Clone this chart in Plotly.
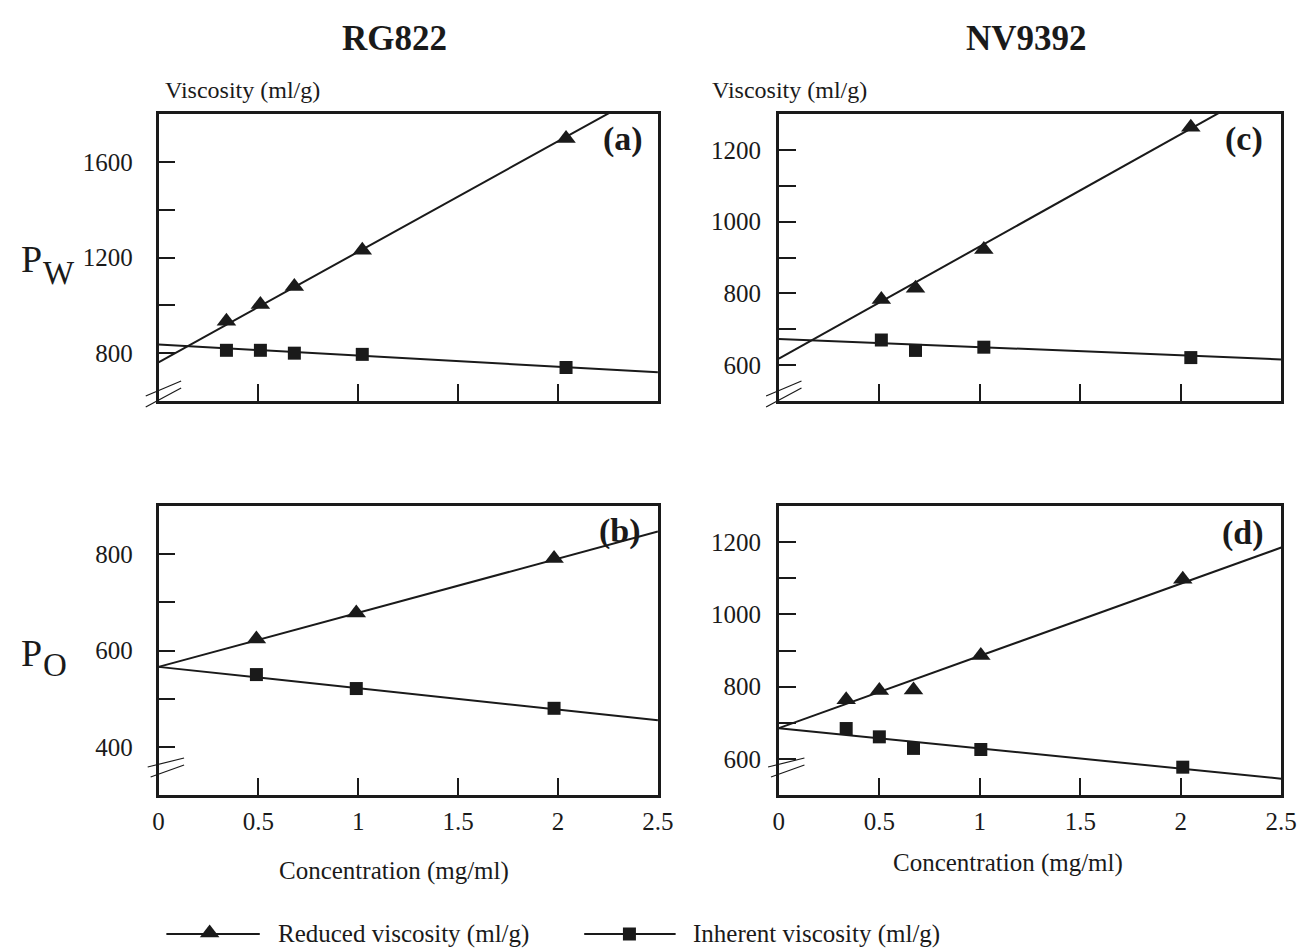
import plotly.graph_objects as go

# ---------------- data ----------------
fit_x = [0, 2.5]

# (a) RG822, Pw
conc_a = [0.34, 0.51, 0.68, 1.02, 2.04]
red_a = [933, 1004, 1079, 1230, 1698]
inh_a = [812, 812, 800, 795, 740]
red_a_fit = [762, 1917]
inh_a_fit = [836, 720]

# (c) NV9392, Pw
conc_c = [0.51, 0.68, 1.02, 2.05]
red_c = [783, 814, 922, 1263]
inh_c = [670, 641, 650, 621]
red_c_fit = [618, 1400]
inh_c_fit = [673, 616]

# (b) RG822, Po
conc_b = [0.49, 0.99, 1.98]
red_b = [624, 678, 791]
inh_b = [550, 521, 480]
red_b_fit = [566, 847]
inh_b_fit = [566, 455]

# (d) NV9392, Po
conc_d = [0.335, 0.50, 0.67, 1.005, 2.01]
red_d = [764, 789, 791, 886, 1097]
inh_d = [684, 661, 629, 626, 577]
red_d_fit = [685, 1185]
inh_d_fit = [685, 545]

x_ticks = [0, 0.5, 1, 1.5, 2, 2.5]
x_tick_labels = ["0", "0.5", "1", "1.5", "2", "2.5"]

y_ticks_a = [600, 800, 1000, 1200, 1400, 1600, 1800]
y_labels_a = ["", "800", "", "1200", "", "1600", ""]
y_ticks_c = [500, 600, 700, 800, 900, 1000, 1100, 1200, 1300]
y_labels_c = ["", "600", "", "800", "", "1000", "", "1200", ""]
y_ticks_b = [300, 400, 500, 600, 700, 800, 900]
y_labels_b = ["", "400", "", "600", "", "800", ""]
y_ticks_d = y_ticks_c
y_labels_d = y_labels_c

series_names = ["Reduced viscosity (ml/g)", "Inherent viscosity (ml/g)"]

# ---------------- layout helpers ----------------
VW, VH = 1311, 952          # browser window
OFF = 8                     # default body margin of the html page
W, H = VW - OFF, VH - OFF   # figure size so the page fits the window exactly
FONT = "Liberation Serif, Times New Roman, serif"
INK = "#1a1a1a"


def px(x):
    return (x - OFF) / W


def py(y):
    return 1 - (y - OFF) / H


panels = {
    # name: (axis index, left, right, top, bottom) in screen pixels
    "a": (1, 155, 663, 114, 401),
    "c": (2, 786, 1297, 114, 401),
    "b": (3, 155, 663, 506, 795),
    "d": (4, 786, 1297, 506, 795),
}

fig = go.Figure()


def add_panel(idx, conc, red, inh, red_fit, inh_fit):
    xa = "x" if idx == 1 else f"x{idx}"
    ya = "y" if idx == 1 else f"y{idx}"
    line = dict(color=INK, width=2)
    fig.add_trace(go.Scatter(x=fit_x, y=red_fit, mode="lines", line=line,
                             xaxis=xa, yaxis=ya, showlegend=False, hoverinfo="skip"))
    fig.add_trace(go.Scatter(x=fit_x, y=inh_fit, mode="lines", line=line,
                             xaxis=xa, yaxis=ya, showlegend=False, hoverinfo="skip"))
    fig.add_trace(go.Scatter(x=conc, y=red, mode="markers", name=series_names[0],
                             marker=dict(symbol="triangle-up", size=17, color=INK),
                             xaxis=xa, yaxis=ya, showlegend=False, cliponaxis=False))
    fig.add_trace(go.Scatter(x=conc, y=inh, mode="markers", name=series_names[1],
                             marker=dict(symbol="square", size=13, color=INK),
                             xaxis=xa, yaxis=ya, showlegend=False, cliponaxis=False))


add_panel(1, conc_a, red_a, inh_a, red_a_fit, inh_a_fit)
add_panel(2, conc_c, red_c, inh_c, red_c_fit, inh_c_fit)
add_panel(3, conc_b, red_b, inh_b, red_b_fit, inh_b_fit)
add_panel(4, conc_d, red_d, inh_d, red_d_fit, inh_d_fit)

axis_common = dict(
    showline=True, linewidth=2.6, linecolor=INK, mirror=True,
    ticks="inside", ticklen=17, tickwidth=2, tickcolor=INK,
    showgrid=False, zeroline=False,
    tickfont=dict(family=FONT, size=25, color=INK),
)

yinfo = {
    1: ([600, 1800], y_ticks_a, y_labels_a, 18),
    2: ([500, 1300], y_ticks_c, y_labels_c, 10),
    3: ([300, 900], y_ticks_b, y_labels_b, 18),
    4: ([500, 1300], y_ticks_d, y_labels_d, 10),
}

layout_axes = {}
for name, (idx, l, r, t, b) in panels.items():
    xk = "xaxis" if idx == 1 else f"xaxis{idx}"
    yk = "yaxis" if idx == 1 else f"yaxis{idx}"
    ya = "y" if idx == 1 else f"y{idx}"
    xa = "x" if idx == 1 else f"x{idx}"
    yr, yt, yl, ystand = yinfo[idx]
    layout_axes[xk] = dict(
        axis_common, domain=[px(l), px(r)], anchor=ya, range=[0, 2.5],
        tickvals=x_ticks, ticktext=x_tick_labels,
        showticklabels=(idx in (3, 4)), ticklabelstandoff=2,
    )
    layout_axes[yk] = dict(
        axis_common, domain=[py(b), py(t)], anchor=xa, range=yr,
        tickvals=yt, ticktext=yl, ticklabelstandoff=ystand,
    )

# small hidden axis (screen pixel units) holding the legend glyphs only
LEG_T, LEG_B = 915, 952
layout_axes["xaxis5"] = dict(domain=[0, 1], range=[OFF, VW], visible=False, anchor="y5")
layout_axes["yaxis5"] = dict(domain=[py(LEG_B), py(LEG_T)], range=[LEG_B, LEG_T],
                             visible=False, anchor="x5")

leg_y = 934
fig.add_trace(go.Scatter(x=[163, 258], y=[leg_y, leg_y], mode="lines",
                         line=dict(color=INK, width=2), xaxis="x5", yaxis="y5",
                         showlegend=False, hoverinfo="skip", cliponaxis=False))
fig.add_trace(go.Scatter(x=[207], y=[leg_y - 1], mode="markers",
                         marker=dict(symbol="triangle-up", size=17, color=INK),
                         xaxis="x5", yaxis="y5", showlegend=False, hoverinfo="skip",
                         cliponaxis=False))
fig.add_trace(go.Scatter(x=[588, 681], y=[leg_y, leg_y], mode="lines",
                         line=dict(color=INK, width=2), xaxis="x5", yaxis="y5",
                         showlegend=False, hoverinfo="skip", cliponaxis=False))
fig.add_trace(go.Scatter(x=[634], y=[leg_y], mode="markers",
                         marker=dict(symbol="square", size=13, color=INK),
                         xaxis="x5", yaxis="y5", showlegend=False, hoverinfo="skip",
                         cliponaxis=False))

# ---------------- annotations ----------------
ann = []


def text(x, y, s, size=20, bold=False, xanchor="center", yanchor="middle"):
    if bold:
        s = f"<b>{s}</b>"
    ann.append(dict(x=px(x), y=py(y), xref="paper", yref="paper", text=s,
                    showarrow=False, xanchor=xanchor, yanchor=yanchor,
                    font=dict(family=FONT, size=size, color=INK)))


text(395, 38, "RG822", size=35, bold=True)
text(1038, 38, "NV9392", size=35, bold=True)
text(160, 90, "Viscosity (ml/g)", size=24, xanchor="left")
text(716, 90, "Viscosity (ml/g)", size=24, xanchor="left")
# P with large subscript (W / O)
text(13, 259, "P", size=38, xanchor="left")
text(35, 273, "W", size=33, xanchor="left")
text(13, 653, "P", size=38, xanchor="left")
text(35, 665, "O", size=33, xanchor="left")
text(627, 139, "(a)", size=34, bold=True)
text(1259, 139, "(c)", size=34, bold=True)
text(624, 531, "(b)", size=34, bold=True)
text(1258, 533, "(d)", size=34, bold=True)
text(395, 871, "Concentration (mg/ml)", size=25)
text(1019, 863, "Concentration (mg/ml)", size=25)
text(274, 934, series_names[0], size=25, xanchor="left")
text(697, 934, series_names[1], size=25, xanchor="left")

# ---------------- axis-break marks ----------------
shapes = []
break_top = [((-13, -5), (23, -20)), ((-13, 6), (23, -13))]
break_bot = [((-11, -28), (26, -37)), ((-8, -18), (26, -30))]
for name, (idx, l, r, t, b) in panels.items():
    segs = break_top if name in ("a", "c") else break_bot
    for (x0, y0), (x1, y1) in segs:
        shapes.append(dict(type="line", xref="paper", yref="paper",
                           x0=px(l + x0), y0=py(b + y0), x1=px(l + x1), y1=py(b + y1),
                           line=dict(color=INK, width=1.2)))

fig.update_layout(
    width=W, height=H,
    margin=dict(l=0, r=0, t=0, b=0),
    paper_bgcolor="white", plot_bgcolor="rgba(0,0,0,0)",
    showlegend=False,
    annotations=ann, shapes=shapes,
    **layout_axes,
)

fig.write_html("out.html")
